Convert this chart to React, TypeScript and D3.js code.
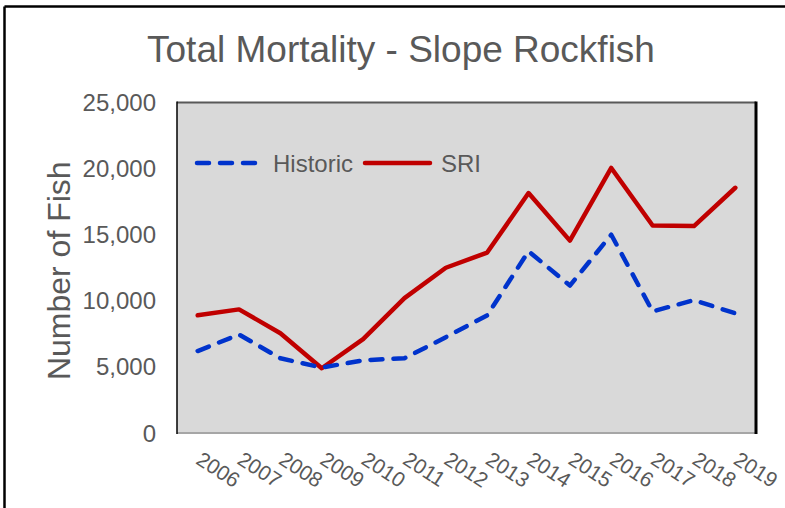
import React from "react";
import * as d3 from "d3";

const years = ["2006","2007","2008","2009","2010","2011","2012","2013","2014","2015","2016","2017","2018","2019"];
const historic = [6200, 7450, 5650, 4950, 5500, 5650, 7250, 8900, 13750, 11150, 15000, 9200, 10050, 9050];
const sri = [8900, 9350, 7550, 4900, 7100, 10200, 12500, 13650, 18150, 14550, 20050, 15700, 15650, 18550];
const yTicks = [0, 5000, 10000, 15000, 20000, 25000];

const W = 785, H = 508;
const plot = { left: 177, right: 756, top: 102.5, bottom: 433 };
const textColor = "#595959";
const font = "Arial, 'Liberation Sans', sans-serif";

export default function App() {
  const x = d3.scaleBand<string>().domain(years).range([plot.left, plot.right]);
  const y = d3.scaleLinear().domain([0, 25000]).range([plot.bottom, plot.top]);
  const cx = (d: string) => (x(d) as number) + x.bandwidth() / 2;
  const line = d3.line<number>().x((_, i) => cx(years[i])).y((v) => y(v));
  const fmt = d3.format(",");

  return (
    <div style={{ position: "fixed", left: 0, top: 0 }}>
      <svg width={W} height={H} style={{ display: "block", fontFamily: font }}>
        <rect x={0} y={0} width={W} height={H} fill="#ffffff" />
        {/* outer chart border */}
        <line x1={4.5} y1={6.5} x2={W + 5} y2={6.5} stroke="#000" strokeWidth={2.5} />
        <line x1={4.5} y1={6.5} x2={4.5} y2={H + 5} stroke="#000" strokeWidth={2.5} />

        <text x={401} y={62} textAnchor="middle" fontSize={37} fill={textColor}>
          Total Mortality - Slope Rockfish
        </text>

        {/* plot area */}
        <rect x={plot.left} y={plot.top} width={plot.right - plot.left} height={plot.bottom - plot.top} fill="#d9d9d9" />
        <line x1={plot.left} y1={plot.top} x2={plot.right} y2={plot.top} stroke="#595959" strokeWidth={2} />
        <line x1={plot.left} y1={plot.bottom} x2={plot.right} y2={plot.bottom} stroke="#a6a6a6" strokeWidth={2} />
        <line x1={plot.left} y1={plot.top - 1} x2={plot.left} y2={plot.bottom + 1} stroke="#000" strokeWidth={1.5} />
        <line x1={plot.right} y1={plot.top - 1} x2={plot.right} y2={plot.bottom + 1} stroke="#000" strokeWidth={3} />

        {/* y ticks */}
        {yTicks.map((t) => (
          <text key={t} x={156} y={y(t) + 8.5} textAnchor="end" fontSize={24} fill={textColor}>
            {fmt(t)}
          </text>
        ))}

        {/* y axis title */}
        <text transform={`translate(70,${(plot.top + plot.bottom) / 2 + 3}) rotate(-90)`} textAnchor="middle" fontSize={32} fill={textColor}>
          Number of Fish
        </text>

        {/* x tick labels */}
        {years.map((yr) => (
          <text key={yr} transform={`translate(${cx(yr) - 3},463) rotate(33)`} fontSize={21} fill={textColor}>
            {yr}
          </text>
        ))}

        {/* series */}
        <path d={line(sri) as string} fill="none" stroke="#c00000" strokeWidth={4.5} strokeLinejoin="round" strokeLinecap="round" />
        <path d={line(historic) as string} fill="none" stroke="#0033cc" strokeWidth={4.5} strokeLinejoin="round" strokeLinecap="round" strokeDasharray="12 11" />

        {/* legend */}
        <line x1={197} y1={163} x2={262} y2={163} stroke="#0033cc" strokeWidth={4.5} strokeLinecap="round" strokeDasharray="12 11" />
        <text x={273} y={171.5} fontSize={24} fill={textColor}>Historic</text>
        <line x1={365} y1={163} x2={430} y2={163} stroke="#c00000" strokeWidth={4.5} strokeLinecap="round" />
        <text x={441} y={171.5} fontSize={24} fill={textColor}>SRI</text>
      </svg>
    </div>
  );
}
